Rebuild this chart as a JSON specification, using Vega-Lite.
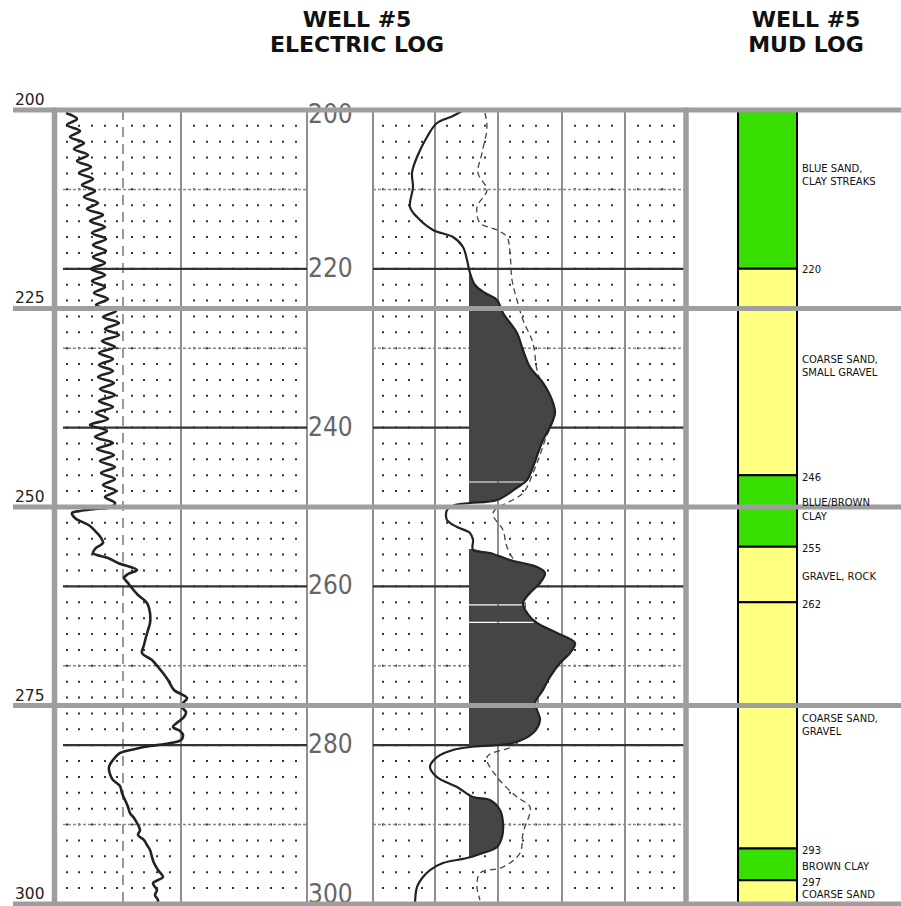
{
  "$schema": "https://vega.github.io/schema/vega-lite/v6.json",
  "width": 901,
  "height": 906,
  "autosize": {"type": "none"},
  "padding": 0,
  "background": "white",
  "config": {"view": {"stroke": null}},
  "datasets": {
    "gray_h": [{"d": 200}, {"d": 225}, {"d": 250}, {"d": 275}, {"d": 300}],
    "gray_v": [{"x": 54.5}, {"x": 686}],
    "dots": [
      {"x": 67}, {"x": 79}, {"x": 92}, {"x": 105}, {"x": 117}, {"x": 132}, {"x": 144}, {"x": 157}, {"x": 170},
      {"x": 194}, {"x": 207}, {"x": 220}, {"x": 233}, {"x": 247}, {"x": 258}, {"x": 271}, {"x": 283}, {"x": 296},
      {"x": 383}, {"x": 396}, {"x": 409}, {"x": 422}, {"x": 447}, {"x": 460}, {"x": 473}, {"x": 485},
      {"x": 510}, {"x": 523}, {"x": 536}, {"x": 548}, {"x": 575}, {"x": 587}, {"x": 599}, {"x": 612},
      {"x": 638}, {"x": 650}, {"x": 662}, {"x": 674}
    ],
    "thin_v": [{"x": 181}, {"x": 307}, {"x": 373}, {"x": 435}, {"x": 498}, {"x": 562}, {"x": 625}],
    "dash_v": [{"x": 123}],
    "dark_h": [
      {"d": 220, "x1": 63, "x2": 307}, {"d": 220, "x1": 373, "x2": 686},
      {"d": 240, "x1": 63, "x2": 307}, {"d": 240, "x1": 373, "x2": 686},
      {"d": 260, "x1": 63, "x2": 307}, {"d": 260, "x1": 373, "x2": 686},
      {"d": 280, "x1": 63, "x2": 307}, {"d": 280, "x1": 373, "x2": 686}
    ],
    "dash_h": [
      {"d": 210, "x1": 63, "x2": 307}, {"d": 210, "x1": 373, "x2": 686},
      {"d": 230, "x1": 63, "x2": 307}, {"d": 230, "x1": 373, "x2": 686},
      {"d": 270, "x1": 63, "x2": 307}, {"d": 270, "x1": 373, "x2": 686},
      {"d": 290, "x1": 63, "x2": 307}, {"d": 290, "x1": 373, "x2": 686}
    ],
    "depth_mid": [
      {"d": 200.6, "t": "200"}, {"d": 220, "t": "220"}, {"d": 240, "t": "240"},
      {"d": 260, "t": "260"}, {"d": 280, "t": "280"}, {"d": 298.9, "t": "300"}
    ],
    "res": [
      {"d": 200.38, "x": 66}, {"d": 201.13, "x": 77}, {"d": 201.89, "x": 67}, {"d": 202.64, "x": 80},
      {"d": 203.40, "x": 70}, {"d": 204.16, "x": 84}, {"d": 204.91, "x": 74}, {"d": 205.67, "x": 88},
      {"d": 206.42, "x": 77}, {"d": 207.18, "x": 91}, {"d": 207.93, "x": 79}, {"d": 208.69, "x": 93},
      {"d": 209.45, "x": 82}, {"d": 210.20, "x": 95}, {"d": 210.96, "x": 84}, {"d": 211.71, "x": 98},
      {"d": 212.47, "x": 87}, {"d": 213.22, "x": 103}, {"d": 213.98, "x": 90}, {"d": 214.74, "x": 105},
      {"d": 215.49, "x": 92}, {"d": 216.25, "x": 106}, {"d": 217.00, "x": 93}, {"d": 217.76, "x": 106},
      {"d": 218.51, "x": 93}, {"d": 219.27, "x": 105}, {"d": 220.03, "x": 91}, {"d": 220.78, "x": 105},
      {"d": 221.54, "x": 92}, {"d": 222.29, "x": 105}, {"d": 223.05, "x": 94}, {"d": 223.80, "x": 108},
      {"d": 224.56, "x": 96}, {"d": 225.32, "x": 116}, {"d": 226.07, "x": 103}, {"d": 226.83, "x": 119},
      {"d": 227.58, "x": 105}, {"d": 228.34, "x": 119}, {"d": 229.09, "x": 102}, {"d": 229.85, "x": 115},
      {"d": 230.60, "x": 99}, {"d": 231.36, "x": 113}, {"d": 232.12, "x": 99}, {"d": 232.87, "x": 113},
      {"d": 233.63, "x": 98}, {"d": 234.38, "x": 114}, {"d": 235.14, "x": 100}, {"d": 235.89, "x": 115},
      {"d": 236.65, "x": 99}, {"d": 237.41, "x": 113}, {"d": 238.16, "x": 96}, {"d": 238.92, "x": 108},
      {"d": 239.67, "x": 90}, {"d": 240.43, "x": 107}, {"d": 241.18, "x": 95}, {"d": 241.94, "x": 113},
      {"d": 242.70, "x": 97}, {"d": 243.45, "x": 114}, {"d": 244.21, "x": 100}, {"d": 244.96, "x": 115},
      {"d": 245.72, "x": 101}, {"d": 246.47, "x": 115}, {"d": 247.23, "x": 103}, {"d": 247.99, "x": 116},
      {"d": 248.74, "x": 105}, {"d": 249.50, "x": 115}, {"d": 250.00, "x": 111}, {"d": 250.25, "x": 95},
      {"d": 250.50, "x": 80}, {"d": 250.75, "x": 72}, {"d": 251.38, "x": 75}, {"d": 252.39, "x": 90},
      {"d": 253.27, "x": 97}, {"d": 253.90, "x": 101}, {"d": 254.53, "x": 103}, {"d": 255.16, "x": 96},
      {"d": 255.79, "x": 93}, {"d": 256.42, "x": 108}, {"d": 257.05, "x": 118}, {"d": 257.93, "x": 137},
      {"d": 258.44, "x": 128}, {"d": 258.94, "x": 124}, {"d": 259.57, "x": 128}, {"d": 260.08, "x": 131},
      {"d": 261.08, "x": 138}, {"d": 262.09, "x": 147}, {"d": 263.35, "x": 150}, {"d": 264.61, "x": 150},
      {"d": 265.49, "x": 148}, {"d": 266.37, "x": 146}, {"d": 267.38, "x": 144}, {"d": 268.39, "x": 142},
      {"d": 269.27, "x": 152}, {"d": 270.15, "x": 158}, {"d": 270.91, "x": 163}, {"d": 271.79, "x": 168},
      {"d": 273.05, "x": 174}, {"d": 274.06, "x": 187}, {"d": 274.69, "x": 183}, {"d": 275.19, "x": 182},
      {"d": 275.82, "x": 186}, {"d": 276.45, "x": 184}, {"d": 277.08, "x": 178}, {"d": 277.71, "x": 173},
      {"d": 278.21, "x": 180}, {"d": 278.71, "x": 183}, {"d": 279.35, "x": 181}, {"d": 279.85, "x": 165},
      {"d": 280.10, "x": 150}, {"d": 280.48, "x": 135}, {"d": 280.98, "x": 120}, {"d": 281.86, "x": 113},
      {"d": 282.74, "x": 109}, {"d": 283.63, "x": 110}, {"d": 284.38, "x": 113}, {"d": 285.14, "x": 120},
      {"d": 286.02, "x": 122}, {"d": 286.90, "x": 125}, {"d": 287.78, "x": 128}, {"d": 288.54, "x": 130},
      {"d": 289.17, "x": 134}, {"d": 289.80, "x": 137}, {"d": 290.68, "x": 140}, {"d": 291.31, "x": 138},
      {"d": 291.94, "x": 144}, {"d": 292.57, "x": 147}, {"d": 293.20, "x": 150}, {"d": 294.08, "x": 152},
      {"d": 294.84, "x": 154}, {"d": 295.72, "x": 158}, {"d": 296.60, "x": 163}, {"d": 296.98, "x": 158},
      {"d": 297.36, "x": 153}, {"d": 297.86, "x": 155}, {"d": 298.24, "x": 157}, {"d": 298.87, "x": 155},
      {"d": 299.50, "x": 158}, {"d": 300.00, "x": 157}
    ],
    "sp": [
      {"d": 200.13, "x": 462}, {"d": 200.76, "x": 453}, {"d": 201.64, "x": 437}, {"d": 203.40, "x": 427},
      {"d": 205.92, "x": 417}, {"d": 207.93, "x": 412}, {"d": 209.70, "x": 413}, {"d": 212.22, "x": 410},
      {"d": 213.48, "x": 417}, {"d": 215.11, "x": 433}, {"d": 216.00, "x": 453}, {"d": 217.25, "x": 463},
      {"d": 218.89, "x": 467}, {"d": 220.53, "x": 470}, {"d": 222.04, "x": 475}, {"d": 223.05, "x": 485},
      {"d": 223.93, "x": 497}, {"d": 225.57, "x": 503}, {"d": 228.09, "x": 517}, {"d": 230.23, "x": 523},
      {"d": 232.37, "x": 530}, {"d": 234.38, "x": 543}, {"d": 236.52, "x": 552}, {"d": 238.16, "x": 555},
      {"d": 239.92, "x": 550}, {"d": 241.56, "x": 543}, {"d": 243.20, "x": 538}, {"d": 244.96, "x": 533},
      {"d": 246.60, "x": 527}, {"d": 247.48, "x": 518}, {"d": 249.12, "x": 497}, {"d": 249.50, "x": 470},
      {"d": 249.75, "x": 455}, {"d": 250.38, "x": 447}, {"d": 251.64, "x": 447}, {"d": 252.52, "x": 457},
      {"d": 253.27, "x": 470}, {"d": 254.14, "x": 473}, {"d": 255.40, "x": 473}, {"d": 255.79, "x": 490},
      {"d": 256.68, "x": 510}, {"d": 257.56, "x": 537}, {"d": 258.31, "x": 545}, {"d": 259.57, "x": 540},
      {"d": 260.83, "x": 530}, {"d": 262.09, "x": 523}, {"d": 263.35, "x": 527}, {"d": 264.61, "x": 537},
      {"d": 265.87, "x": 557}, {"d": 267.13, "x": 575}, {"d": 268.39, "x": 570}, {"d": 269.65, "x": 560},
      {"d": 271.41, "x": 550}, {"d": 273.05, "x": 543}, {"d": 274.69, "x": 535}, {"d": 275.57, "x": 537},
      {"d": 276.83, "x": 540}, {"d": 278.46, "x": 533}, {"d": 279.72, "x": 513}, {"d": 280.23, "x": 470},
      {"d": 280.60, "x": 453}, {"d": 281.49, "x": 437}, {"d": 282.74, "x": 430}, {"d": 284.01, "x": 437},
      {"d": 285.26, "x": 457}, {"d": 286.52, "x": 473}, {"d": 286.90, "x": 490}, {"d": 288.16, "x": 500},
      {"d": 289.80, "x": 503}, {"d": 291.56, "x": 502}, {"d": 292.82, "x": 497}, {"d": 293.58, "x": 483},
      {"d": 294.21, "x": 467}, {"d": 294.84, "x": 443}, {"d": 295.72, "x": 430}, {"d": 296.60, "x": 423},
      {"d": 297.86, "x": 417}, {"d": 300.00, "x": 415}
    ],
    "sp_fill": [
      {"seg": "a", "d": 220.53, "x": 470}, {"seg": "a", "d": 222.04, "x": 475}, {"seg": "a", "d": 223.05, "x": 485},
      {"seg": "a", "d": 223.93, "x": 497}, {"seg": "a", "d": 225.57, "x": 503}, {"seg": "a", "d": 228.09, "x": 517},
      {"seg": "a", "d": 230.23, "x": 523}, {"seg": "a", "d": 232.37, "x": 530}, {"seg": "a", "d": 234.38, "x": 543},
      {"seg": "a", "d": 236.52, "x": 552}, {"seg": "a", "d": 238.16, "x": 555}, {"seg": "a", "d": 239.92, "x": 550},
      {"seg": "a", "d": 241.56, "x": 543}, {"seg": "a", "d": 243.20, "x": 538}, {"seg": "a", "d": 244.96, "x": 533},
      {"seg": "a", "d": 246.60, "x": 527}, {"seg": "a", "d": 246.78, "x": 525},
      {"seg": "b", "d": 246.92, "x": 524}, {"seg": "b", "d": 247.48, "x": 518}, {"seg": "b", "d": 249.12, "x": 497},
      {"seg": "b", "d": 249.50, "x": 470},
      {"seg": "c", "d": 255.30, "x": 473}, {"seg": "c", "d": 255.79, "x": 490}, {"seg": "c", "d": 256.68, "x": 510},
      {"seg": "c", "d": 257.56, "x": 537}, {"seg": "c", "d": 258.31, "x": 545}, {"seg": "c", "d": 259.57, "x": 540},
      {"seg": "c", "d": 260.83, "x": 530}, {"seg": "c", "d": 262.09, "x": 523}, {"seg": "c", "d": 262.26, "x": 523},
      {"seg": "d", "d": 262.40, "x": 523}, {"seg": "d", "d": 263.35, "x": 527}, {"seg": "d", "d": 264.45, "x": 536},
      {"seg": "e", "d": 264.60, "x": 537}, {"seg": "e", "d": 265.87, "x": 557}, {"seg": "e", "d": 267.13, "x": 575},
      {"seg": "e", "d": 268.39, "x": 570}, {"seg": "e", "d": 269.65, "x": 560}, {"seg": "e", "d": 271.41, "x": 550},
      {"seg": "e", "d": 273.05, "x": 543}, {"seg": "e", "d": 274.69, "x": 535}, {"seg": "e", "d": 275.57, "x": 537},
      {"seg": "e", "d": 276.83, "x": 540}, {"seg": "e", "d": 278.46, "x": 533}, {"seg": "e", "d": 279.72, "x": 513},
      {"seg": "e", "d": 280.23, "x": 470},
      {"seg": "f", "d": 286.27, "x": 469}, {"seg": "f", "d": 286.52, "x": 473}, {"seg": "f", "d": 286.90, "x": 490},
      {"seg": "f", "d": 288.16, "x": 500}, {"seg": "f", "d": 289.80, "x": 503}, {"seg": "f", "d": 291.56, "x": 502},
      {"seg": "f", "d": 292.82, "x": 497}, {"seg": "f", "d": 293.58, "x": 483}, {"seg": "f", "d": 294.27, "x": 469}
    ],
    "sp2": [
      {"d": 200.38, "x": 485}, {"d": 202.14, "x": 487}, {"d": 205.42, "x": 482}, {"d": 207.93, "x": 478},
      {"d": 210.08, "x": 487}, {"d": 212.22, "x": 477}, {"d": 214.23, "x": 480}, {"d": 215.11, "x": 497},
      {"d": 216.00, "x": 507}, {"d": 218.01, "x": 510}, {"d": 221.41, "x": 512}, {"d": 223.93, "x": 517},
      {"d": 226.45, "x": 523}, {"d": 229.35, "x": 533}, {"d": 232.75, "x": 537}, {"d": 234.89, "x": 543},
      {"d": 237.78, "x": 555}, {"d": 241.56, "x": 545}, {"d": 243.45, "x": 540}, {"d": 245.72, "x": 533},
      {"d": 248.24, "x": 523}, {"d": 250.76, "x": 493}, {"d": 252.90, "x": 503}, {"d": 255.04, "x": 507},
      {"d": 257.05, "x": 517}, {"d": 258.56, "x": 540}, {"d": 261.71, "x": 525}, {"d": 264.23, "x": 532},
      {"d": 266.12, "x": 560}, {"d": 267.38, "x": 570}, {"d": 269.90, "x": 555}, {"d": 273.05, "x": 540},
      {"d": 276.83, "x": 535}, {"d": 279.97, "x": 515}, {"d": 281.49, "x": 487}, {"d": 284.01, "x": 497},
      {"d": 286.52, "x": 517}, {"d": 287.78, "x": 530}, {"d": 291.06, "x": 523}, {"d": 293.58, "x": 520},
      {"d": 295.34, "x": 503}, {"d": 296.10, "x": 480}, {"d": 297.86, "x": 477}, {"d": 299.50, "x": 480}
    ],
    "mud": [
      {"top": 200, "bot": 220, "lith": "clay"},
      {"top": 220, "bot": 246, "lith": "sand"},
      {"top": 246, "bot": 255, "lith": "clay"},
      {"top": 255, "bot": 262, "lith": "sand"},
      {"top": 262, "bot": 293, "lith": "sand"},
      {"top": 293, "bot": 297, "lith": "clay"},
      {"top": 297, "bot": 300, "lith": "sand"}
    ],
    "mud_text": [
      {"d": 207.43, "t": "BLUE SAND,"}, {"d": 209.07, "t": "CLAY STREAKS"},
      {"d": 220.2, "t": "220"},
      {"d": 231.49, "t": "COARSE SAND,"}, {"d": 233.12, "t": "SMALL GRAVEL"},
      {"d": 246.35, "t": "246"},
      {"d": 249.5, "t": "BLUE/BROWN"}, {"d": 251.26, "t": "CLAY"},
      {"d": 255.29, "t": "255"},
      {"d": 258.82, "t": "GRAVEL, ROCK"},
      {"d": 262.34, "t": "262"},
      {"d": 276.7, "t": "COARSE SAND,"}, {"d": 278.34, "t": "GRAVEL"},
      {"d": 293.32, "t": "293"},
      {"d": 295.34, "t": "BROWN CLAY"},
      {"d": 297.36, "t": "297"},
      {"d": 298.87, "t": "COARSE SAND"}
    ],
    "depth_left": [
      {"d": 200, "t": "200"}, {"d": 225, "t": "225"}, {"d": 250, "t": "250"},
      {"d": 275, "t": "275"}, {"d": 300, "t": "300"}
    ],
    "titles": [
      {"x": 357, "d": 188.67, "t": "WELL #5"},
      {"x": 357, "d": 191.81, "t": "ELECTRIC LOG"},
      {"x": 806, "d": 188.67, "t": "WELL #5"},
      {"x": 806, "d": 191.81, "t": "MUD LOG"}
    ]
  },
  "layer": [
    {
      "data": {"name": "dots"},
      "mark": {"type": "rule", "color": "#333333", "strokeWidth": 2, "strokeDash": [2, 13.88], "strokeDashOffset": 1, "strokeCap": "butt"},
      "encoding": {
        "x": {"field": "x", "type": "quantitative", "scale": {"domain": [0, 901], "nice": false, "zero": false}, "axis": null},
        "y": {"datum": 200, "type": "quantitative", "scale": {"domain": [186.15, 300.25], "reverse": true, "nice": false, "zero": false}, "axis": null},
        "y2": {"datum": 300}
      }
    },
    {
      "data": {"name": "thin_v"},
      "mark": {"type": "rule", "color": "#444444", "strokeWidth": 1.2},
      "encoding": {
        "x": {"field": "x", "type": "quantitative", "scale": {"domain": [0, 901], "nice": false, "zero": false}, "axis": null},
        "y": {"datum": 200, "type": "quantitative", "scale": {"domain": [186.15, 300.25], "reverse": true, "nice": false, "zero": false}, "axis": null},
        "y2": {"datum": 300}
      }
    },
    {
      "data": {"name": "dash_v"},
      "mark": {"type": "rule", "color": "#555555", "strokeWidth": 1.2, "strokeDash": [10, 7]},
      "encoding": {
        "x": {"field": "x", "type": "quantitative", "scale": {"domain": [0, 901], "nice": false, "zero": false}, "axis": null},
        "y": {"datum": 200, "type": "quantitative", "scale": {"domain": [186.15, 300.25], "reverse": true, "nice": false, "zero": false}, "axis": null},
        "y2": {"datum": 300}
      }
    },
    {
      "data": {"name": "dash_h"},
      "mark": {"type": "rule", "color": "#8a8a8a", "strokeWidth": 1.5, "strokeDash": [3, 2]},
      "encoding": {
        "x": {"field": "x1", "type": "quantitative", "scale": {"domain": [0, 901], "nice": false, "zero": false}, "axis": null},
        "x2": {"field": "x2"},
        "y": {"field": "d", "type": "quantitative", "scale": {"domain": [186.15, 300.25], "reverse": true, "nice": false, "zero": false}, "axis": null}
      }
    },
    {
      "data": {"name": "dark_h"},
      "mark": {"type": "rule", "color": "#333333", "strokeWidth": 2.2},
      "encoding": {
        "x": {"field": "x1", "type": "quantitative", "scale": {"domain": [0, 901], "nice": false, "zero": false}, "axis": null},
        "x2": {"field": "x2"},
        "y": {"field": "d", "type": "quantitative", "scale": {"domain": [186.15, 300.25], "reverse": true, "nice": false, "zero": false}, "axis": null}
      }
    },
    {
      "data": {"name": "depth_mid"},
      "mark": {"type": "text", "align": "left", "baseline": "middle", "font": "Liberation Sans Narrow, DejaVu Sans Condensed, Liberation Sans", "fontSize": 26, "color": "#666666"},
      "encoding": {
        "x": {"datum": 308, "type": "quantitative", "scale": {"domain": [0, 901], "nice": false, "zero": false}, "axis": null},
        "y": {"field": "d", "type": "quantitative", "scale": {"domain": [186.15, 300.25], "reverse": true, "nice": false, "zero": false}, "axis": null},
        "text": {"field": "t"}
      }
    },
    {
      "data": {"name": "res"},
      "mark": {"type": "line", "color": "#222222", "strokeWidth": 2.6, "interpolate": "catmull-rom"},
      "encoding": {
        "x": {"field": "x", "type": "quantitative", "scale": {"domain": [0, 901], "nice": false, "zero": false}, "axis": null},
        "y": {"field": "d", "type": "quantitative", "scale": {"domain": [186.15, 300.25], "reverse": true, "nice": false, "zero": false}, "axis": null},
        "order": {"field": "d", "type": "quantitative"}
      }
    },
    {
      "data": {"name": "sp2"},
      "mark": {"type": "line", "color": "#444444", "strokeWidth": 1.3, "strokeDash": [6, 4], "interpolate": "catmull-rom"},
      "encoding": {
        "x": {"field": "x", "type": "quantitative", "scale": {"domain": [0, 901], "nice": false, "zero": false}, "axis": null},
        "y": {"field": "d", "type": "quantitative", "scale": {"domain": [186.15, 300.25], "reverse": true, "nice": false, "zero": false}, "axis": null},
        "order": {"field": "d", "type": "quantitative"}
      }
    },
    {
      "data": {"name": "sp_fill"},
      "mark": {"type": "area", "orient": "horizontal", "fill": "#454545", "interpolate": "catmull-rom"},
      "encoding": {
        "y": {"field": "d", "type": "quantitative", "scale": {"domain": [186.15, 300.25], "reverse": true, "nice": false, "zero": false}, "axis": null},
        "x": {"field": "x", "type": "quantitative", "stack": null, "scale": {"domain": [0, 901], "nice": false, "zero": false}, "axis": null},
        "x2": {"datum": 469},
        "detail": {"field": "seg", "type": "nominal"}
      }
    },
    {
      "data": {"name": "sp"},
      "mark": {"type": "line", "color": "#222222", "strokeWidth": 2.2, "interpolate": "catmull-rom"},
      "encoding": {
        "x": {"field": "x", "type": "quantitative", "scale": {"domain": [0, 901], "nice": false, "zero": false}, "axis": null},
        "y": {"field": "d", "type": "quantitative", "scale": {"domain": [186.15, 300.25], "reverse": true, "nice": false, "zero": false}, "axis": null},
        "order": {"field": "d", "type": "quantitative"}
      }
    },
    {
      "data": {"name": "mud"},
      "mark": {"type": "rect", "stroke": "#000000", "strokeWidth": 2},
      "encoding": {
        "x": {"datum": 738, "type": "quantitative", "scale": {"domain": [0, 901], "nice": false, "zero": false}, "axis": null},
        "x2": {"datum": 797},
        "y": {"field": "top", "type": "quantitative", "scale": {"domain": [186.15, 300.25], "reverse": true, "nice": false, "zero": false}, "axis": null},
        "y2": {"field": "bot"},
        "color": {"field": "lith", "type": "nominal", "scale": {"domain": ["clay", "sand"], "range": ["#38e000", "#ffff80"]}, "legend": null}
      }
    },
    {
      "data": {"name": "gray_h"},
      "mark": {"type": "rule", "color": "#9e9e9e", "strokeWidth": 5},
      "encoding": {
        "x": {"datum": 13, "type": "quantitative", "scale": {"domain": [0, 901], "nice": false, "zero": false}, "axis": null},
        "x2": {"datum": 901},
        "y": {"field": "d", "type": "quantitative", "scale": {"domain": [186.15, 300.25], "reverse": true, "nice": false, "zero": false}, "axis": null}
      }
    },
    {
      "data": {"name": "gray_v"},
      "mark": {"type": "rule", "color": "#9e9e9e", "strokeWidth": 5.5},
      "encoding": {
        "x": {"field": "x", "type": "quantitative", "scale": {"domain": [0, 901], "nice": false, "zero": false}, "axis": null},
        "y": {"datum": 199.7, "type": "quantitative", "scale": {"domain": [186.15, 300.25], "reverse": true, "nice": false, "zero": false}, "axis": null},
        "y2": {"datum": 300.25}
      }
    },
    {
      "data": {"name": "mud_text"},
      "mark": {"type": "text", "align": "left", "baseline": "middle", "font": "DejaVu Sans", "fontSize": 10, "color": "#111111"},
      "encoding": {
        "x": {"datum": 802, "type": "quantitative", "scale": {"domain": [0, 901], "nice": false, "zero": false}, "axis": null},
        "y": {"field": "d", "type": "quantitative", "scale": {"domain": [186.15, 300.25], "reverse": true, "nice": false, "zero": false}, "axis": null},
        "text": {"field": "t"}
      }
    },
    {
      "data": {"name": "depth_left"},
      "mark": {"type": "text", "align": "left", "baseline": "alphabetic", "dy": -5, "font": "DejaVu Sans", "fontSize": 15.5, "color": "#222222"},
      "encoding": {
        "x": {"datum": 15, "type": "quantitative", "scale": {"domain": [0, 901], "nice": false, "zero": false}, "axis": null},
        "y": {"field": "d", "type": "quantitative", "scale": {"domain": [186.15, 300.25], "reverse": true, "nice": false, "zero": false}, "axis": null},
        "text": {"field": "t"}
      }
    },
    {
      "data": {"name": "titles"},
      "mark": {"type": "text", "align": "center", "baseline": "middle", "font": "DejaVu Sans", "fontSize": 22, "fontWeight": "bold", "color": "#111111"},
      "encoding": {
        "x": {"field": "x", "type": "quantitative", "scale": {"domain": [0, 901], "nice": false, "zero": false}, "axis": null},
        "y": {"field": "d", "type": "quantitative", "scale": {"domain": [186.15, 300.25], "reverse": true, "nice": false, "zero": false}, "axis": null},
        "text": {"field": "t"}
      }
    }
  ]
}
